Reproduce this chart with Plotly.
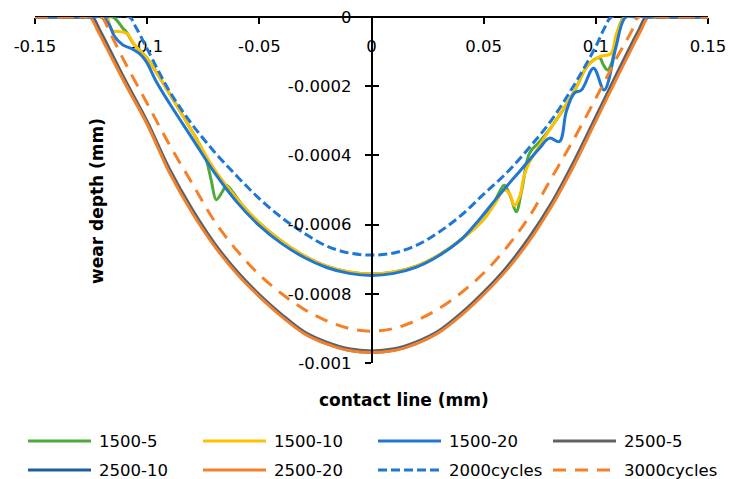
import plotly.graph_objects as go

# ---------------- data ----------------
x_1500_5 = [-0.15, -0.125, -0.1154, -0.1131, -0.1108, -0.1093, -0.106, -0.10, -0.09, -0.08, -0.078, -0.074,
            -0.0715, -0.0692, -0.0665, -0.0647, -0.062, -0.058, -0.05, -0.04, -0.03, -0.02, -0.01, 0.0,
            0.01, 0.02, 0.03, 0.04, 0.05, 0.055, 0.0592, 0.062, 0.0645, 0.067, 0.0704, 0.075, 0.08, 0.09,
            0.0964, 0.1016, 0.1035, 0.1052, 0.1072, 0.109, 0.1115, 0.1127, 0.125, 0.15]
y_1500_5 = [0.0, 0.0, 0.0, -0.000013, -0.000033, -0.000043, -0.000078, -0.00012, -0.000222, -0.00033, -0.000352, -0.000405,
            -0.00047, -0.000528, -0.000505, -0.000486, -0.000505, -0.00054, -0.000595, -0.000648, -0.00069, -0.00072, -0.000737, -0.000743,
            -0.000737, -0.00072, -0.000688, -0.000643, -0.000585, -0.000532, -0.000486, -0.00052, -0.000563, -0.0005, -0.000394, -0.00036, -0.00032, -0.00022,
            -0.00014, -0.000118, -0.00014, -0.000153, -0.00013, -0.00006, -0.00001, 0.0, 0.0, 0.0]

x_1500_10 = [-0.15, -0.125, -0.118, -0.1165, -0.1155, -0.111, -0.1085, -0.106, -0.10, -0.09, -0.08, -0.07, -0.06,
             -0.05, -0.04, -0.03, -0.02, -0.01, 0.0, 0.01, 0.02, 0.03, 0.04, 0.05, 0.055, 0.0592, 0.0615, 0.0637,
             0.066, 0.068, 0.07, 0.08, 0.09, 0.0964, 0.1016, 0.1068, 0.109, 0.111, 0.113, 0.125, 0.15]
y_1500_10 = [0.0, 0.0, 0.0, -0.000028, -0.00004, -0.000043, -0.00005, -0.000078, -0.00012, -0.000222, -0.00033, -0.00044, -0.000525,
             -0.000595, -0.000648, -0.00069, -0.00072, -0.000737, -0.000743, -0.000737, -0.00072, -0.000688, -0.000643, -0.000585, -0.00054, -0.0005, -0.00051, -0.000545,
             -0.00052, -0.00046, -0.000425, -0.00032, -0.00022, -0.00014, -0.000115, -0.000105, -0.000052, -0.00002, 0.0, 0.0, 0.0]

x_1500_20 = [-0.15, -0.125, -0.1198, -0.1167, -0.1145, -0.1108, -0.1071, -0.1034, -0.1004, -0.0959, -0.09, -0.08,
             -0.07, -0.06, -0.05, -0.04, -0.03, -0.02, -0.01, 0.0, 0.01, 0.02, 0.03, 0.04, 0.0481, 0.057, 0.0659,
             0.0748, 0.0793, 0.0838, 0.0868, 0.0904, 0.0936, 0.099, 0.1037, 0.1088, 0.1117, 0.1135, 0.125, 0.15]
y_1500_20 = [0.0, 0.0, 0.0, -0.000025, -0.000057, -0.000081, -0.000091, -0.000106, -0.000129, -0.000187, -0.00025, -0.00035,
             -0.00045, -0.000535, -0.000603, -0.000655, -0.000695, -0.000724, -0.000741, -0.000747, -0.000741, -0.000723, -0.00069, -0.000643, -0.000585, -0.000514, -0.000447,
             -0.00038, -0.00035, -0.00036, -0.000274, -0.00022, -0.000211, -0.000148, -0.000211, -0.000091, -0.000018, 0.0, 0.0, 0.0]

x_2500_5 = [-0.15, -0.13, -0.1245, -0.121, -0.117, -0.11, -0.10, -0.09, -0.08, -0.07, -0.06, -0.05, -0.04, -0.03,
            -0.02, -0.01, 0.0, 0.01, 0.02, 0.03, 0.04, 0.05, 0.06, 0.07, 0.08, 0.09, 0.10, 0.11, 0.115, 0.119,
            0.1225, 0.13, 0.15]
y_2500_5 = [0.0, 0.0, 0.0, -0.00004, -0.00009, -0.00018, -0.000302, -0.00044, -0.000555, -0.000654, -0.000735, -0.000802, -0.00086, -0.00091,
            -0.00094, -0.000959, -0.000965, -0.000959, -0.000939, -0.000907, -0.000856, -0.000795, -0.000725, -0.00064, -0.00054, -0.00042, -0.000288, -0.000155, -0.00009, -0.00004,
            0.0, 0.0, 0.0]

x_2500_10 = [-0.15, -0.13, -0.1252, -0.1217, -0.1177, -0.11, -0.10, -0.09, -0.08, -0.07, -0.06, -0.05, -0.04, -0.03,
             -0.02, -0.01, 0.0, 0.01, 0.02, 0.03, 0.04, 0.05, 0.06, 0.07, 0.08, 0.09, 0.10, 0.11, 0.1158, 0.1198,
             0.1232, 0.13, 0.15]
y_2500_10 = [0.0, 0.0, 0.0, -0.00004, -0.00009, -0.000188, -0.000308, -0.000447, -0.000562, -0.00066, -0.00074, -0.000806, -0.000864, -0.000913,
             -0.000944, -0.000963, -0.000969, -0.000963, -0.000943, -0.000911, -0.00086, -0.0008, -0.00073, -0.000647, -0.000547, -0.00043, -0.000297, -0.000164, -0.00009, -0.00004,
             0.0, 0.0, 0.0]

x_2500_20 = [-0.15, -0.13, -0.1256, -0.122, -0.118, -0.11, -0.10, -0.09, -0.08, -0.07, -0.06, -0.05, -0.04, -0.03,
             -0.02, -0.01, 0.0, 0.01, 0.02, 0.03, 0.04, 0.05, 0.06, 0.07, 0.08, 0.09, 0.10, 0.11, 0.116, 0.12,
             0.1235, 0.13, 0.15]
y_2500_20 = [0.0, 0.0, 0.0, -0.00004, -0.00009, -0.00019, -0.00031, -0.00045, -0.000565, -0.000662, -0.000742, -0.000808, -0.000866, -0.000915,
             -0.000945, -0.000964, -0.00097, -0.000964, -0.000944, -0.000912, -0.000862, -0.000802, -0.000733, -0.00065, -0.00055, -0.000432, -0.0003, -0.000168, -0.00009, -0.00004,
             0.0, 0.0, 0.0]

x_2000cyc = [-0.15, -0.12, -0.108, -0.105, -0.10, -0.09, -0.08, -0.07, -0.06, -0.05, -0.04, -0.03, -0.02, -0.01,
             0.0, 0.01, 0.02, 0.03, 0.04, 0.05, 0.06, 0.07, 0.08, 0.09, 0.10, 0.104, 0.107, 0.12, 0.15]
y_2000cyc = [0.0, 0.0, 0.0, -0.00003, -0.000092, -0.000215, -0.00031, -0.00039, -0.00046, -0.000525, -0.00058, -0.000625, -0.000662, -0.000682,
             -0.000688, -0.000682, -0.00066, -0.000622, -0.000573, -0.000512, -0.000452, -0.00038, -0.0003, -0.0002, -0.000085, -0.00003, 0.0, 0.0, 0.0]

x_3000cyc = [-0.15, -0.13, -0.1205, -0.117, -0.11, -0.10, -0.09, -0.08, -0.07, -0.06, -0.05, -0.04, -0.03, -0.02,
             -0.01, 0.0, 0.01, 0.02, 0.03, 0.04, 0.05, 0.06, 0.07, 0.08, 0.09, 0.10, 0.11, 0.116, 0.119, 0.13, 0.15]
y_3000cyc = [0.0, 0.0, 0.0, -0.00004, -0.00013, -0.00025, -0.00037, -0.00048, -0.00059, -0.000675, -0.000745, -0.0008, -0.000845, -0.000878,
             -0.0009, -0.000908, -0.0009, -0.000877, -0.000843, -0.000797, -0.00074, -0.000668, -0.00058, -0.000468, -0.000355, -0.000235, -0.00011, -0.00004, 0.0, 0.0, 0.0]

series_names = ["1500-5", "1500-10", "1500-20", "2500-5", "2500-10", "2500-20", "2000cycles", "3000cycles"]
series_x = [x_1500_5, x_1500_10, x_1500_20, x_2500_5, x_2500_10, x_2500_20, x_2000cyc, x_3000cyc]
series_y = [y_1500_5, y_1500_10, y_1500_20, y_2500_5, y_2500_10, y_2500_20, y_2000cyc, y_3000cyc]

x_tick_vals = [-0.15, -0.1, -0.05, 0, 0.05, 0.1, 0.15]
x_tick_text = ["-0.15", "-0.1", "-0.05", "0", "0.05", "0.1", "0.15"]
y_tick_vals = [0, -0.0002, -0.0004, -0.0006, -0.0008, -0.001]
y_tick_text = ["0", "-0.0002", "-0.0004", "-0.0006", "-0.0008", "-0.001"]

x_title = "contact line (mm)"
y_title = "wear depth (mm)"

# ---------------- styles ----------------
colors = ["#4DAA38", "#FFC000", "#1F77D2", "#626262", "#1D5E9B", "#F5802A", "#1F77D2", "#F5802A"]
dashes = ["solid", "solid", "solid", "solid", "solid", "solid", "9px,4px", "13px,9px"]
FONT = "DejaVu Sans"

W, H = 729, 479
ML, MR, MT, MB = 35, 21, 17, 116
PW, PH = W - ML - MR, H - MT - MB


def px_x(p):
    return (p - ML) / PW


def px_y(p):
    return (H - MB - p) / PH


fig = go.Figure()
for name, xs, ys, c, d in zip(series_names, series_x, series_y, colors, dashes):
    fig.add_trace(go.Scatter(x=xs, y=ys, mode="lines", name=name, showlegend=False,
                             line=dict(color=c, width=3, dash=d, shape="spline", smoothing=1)))

# empty trace for the overlay axis carrying the inner half of the cross ticks
fig.add_trace(go.Scatter(x=[], y=[], yaxis="y2", showlegend=False, hoverinfo="skip"))

fig.update_layout(
    width=W, height=H,
    margin=dict(l=ML, r=MR, t=MT, b=MB, autoexpand=False),
    paper_bgcolor="white", plot_bgcolor="white",
    font=dict(family=FONT, size=16.5, color="#000000"),
    xaxis=dict(range=[-0.15, 0.15], anchor="free", position=1, side="bottom", automargin=False,
               tickvals=x_tick_vals, ticktext=x_tick_text, ticks="outside", ticklen=6,
               tickcolor="#000", tickwidth=1.5, showline=True, linecolor="#000", linewidth=1.5,
               showgrid=False, zeroline=False, layer="below traces", ticklabelstandoff=8,
               tickfont=dict(family=FONT, size=16.5, color="#000")),
    yaxis=dict(range=[-0.001, 0], anchor="free", position=0.5, side="left", automargin=False,
               tickvals=y_tick_vals, ticktext=y_tick_text, ticks="outside", ticklen=6,
               tickcolor="#000", tickwidth=1.5, showline=True, linecolor="#000", linewidth=1.5,
               showgrid=False, zeroline=False, layer="above traces", ticklabelstandoff=10,
               tickfont=dict(family=FONT, size=16.5, color="#000")),
    yaxis2=dict(range=[-0.001, 0], overlaying="y", anchor="free", position=0.5, side="left",
                automargin=False,
                tickvals=y_tick_vals, ticks="inside", ticklen=6, tickcolor="#000", tickwidth=1.5,
                showticklabels=False, showline=False, showgrid=False, zeroline=False),
)

annotations = [
    dict(text="<b>" + x_title + "</b>", x=px_x(404), y=px_y(400), xref="paper", yref="paper",
         showarrow=False, xanchor="center", yanchor="middle", font=dict(family=FONT, size=17, color="#000")),
    dict(text="<b>" + y_title + "</b>", x=px_x(97), y=px_y(201), xref="paper", yref="paper",
         showarrow=False, xanchor="center", yanchor="middle", textangle=-90,
         font=dict(family=FONT, size=17, color="#000")),
]

# manual legend (2 rows x 4 columns)
col_x = [28, 203, 378, 553]
row_y = [441, 470]
shapes = []
for i, (name, c, d) in enumerate(zip(series_names, colors, dashes)):
    r, k = divmod(i, 4)
    x0 = col_x[k]
    yy = row_y[r]
    shapes.append(dict(type="line", xref="paper", yref="paper", x0=px_x(x0), x1=px_x(x0 + 63),
                       y0=px_y(yy), y1=px_y(yy), line=dict(color=c, width=3, dash=d)))
    annotations.append(dict(text=name, x=px_x(x0 + 69), y=px_y(yy), xref="paper", yref="paper",
                            showarrow=False, xanchor="left", yanchor="middle",
                            font=dict(family=FONT, size=16.5, color="#000")))

fig.update_layout(annotations=annotations, shapes=shapes)
fig.write_html("out.html")
